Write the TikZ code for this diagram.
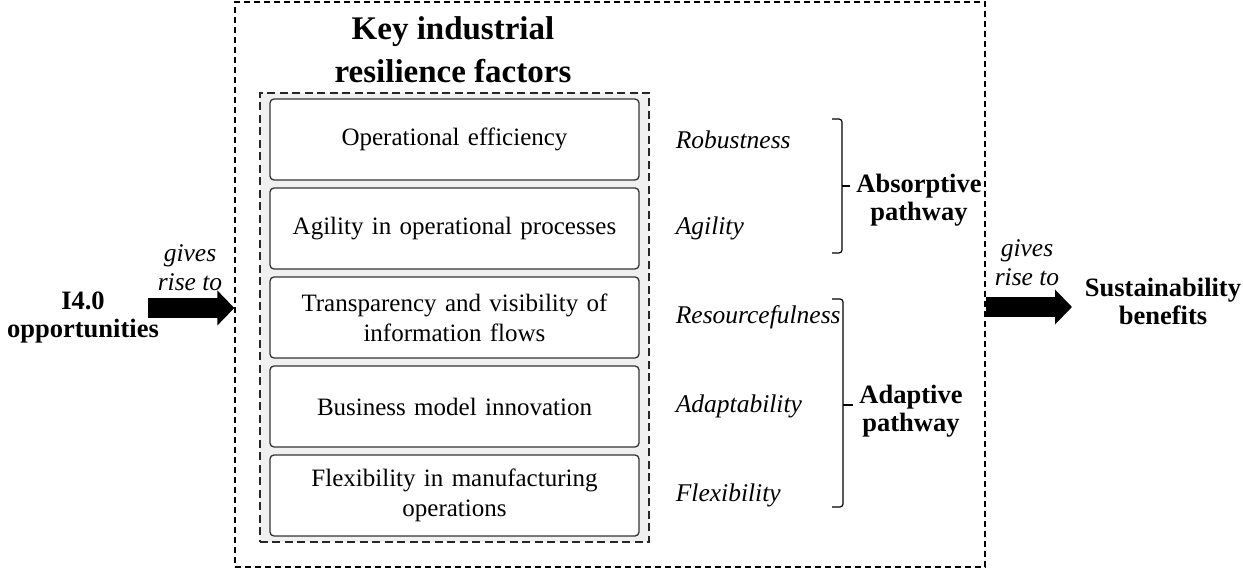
\documentclass[tikz,border=0pt]{standalone}
\usepackage{fontspec}
\setmainfont{Liberation Serif}
\usetikzlibrary{arrows.meta,positioning,fit,backgrounds}

\begin{document}
\begin{tikzpicture}[x=1pt,y=1pt]

\tikzstyle{factor} = [draw=black!80, line width=1.3pt, rounded corners=4pt, fill=white, minimum width=369pt, minimum height=81pt, text width=355pt, align=center, font=\fontsize{25}{30}\selectfont, node distance=89pt]
\tikzstyle{dim} = [font=\itshape\fontsize{25.5}{30}\selectfont, inner sep=0pt]
\tikzstyle{heading} = [font=\bfseries\fontsize{26.5}{28}\selectfont, align=center]
\tikzstyle{gives} = [font=\itshape\fontsize{25.5}{29}\selectfont, align=center]
\tikzstyle{fat} = [line width=20pt, -{Triangle[length=17pt,width=34pt]}]
\tikzstyle{brk} = [line width=1.2pt, rounded corners=3pt]

\useasboundingbox (0,0) rectangle (1243,-569);

\node [font=\bfseries\fontsize{33}{43}\selectfont, align=center] (title) at (453,-50) {Key industrial\\resilience factors};

%factors
\node [factor] (efficiency) at (454.5,-139.5) {Operational efficiency};
\node [factor, below of=efficiency] (agility) {Agility in operational processes};
\node [factor, below of=agility] (transparency) {Transparency and visibility of\\information flows};
\node [factor, below of=transparency] (business) {Business model innovation};
\node [factor, below of=business] (flexibility) {Flexibility in manufacturing\\operations};

\begin{scope}[on background layer]
\node [draw=black!85, dash pattern=on 8pt off 4.5pt, line width=1.5pt, fill=black!6, inner xsep=9.5pt, inner ysep=5.5pt, fit=(efficiency)(flexibility)] (factors) {};
\end{scope}

\node [draw, dash pattern=on 6pt off 4pt, line width=1.3pt, minimum width=750pt, minimum height=565pt] (frame) at (610,-284.5) {};

%capacities
\node [dim, right=36pt of efficiency] (robustness) {Robustness};
\node [dim, right=36pt of agility] (agile) {Agility};
\node [dim, right=36pt of transparency] (resourcefulness) {Resourcefulness};
\node [dim, right=36pt of business] (adaptability) {Adaptability};
\node [dim, right=36pt of flexibility] (flexible) {Flexibility};

%brackets
\draw [brk] (832,-119) -- (842,-119) -- (842,-253) -- (832,-253);
\draw [brk] (842,-186) -- (850,-186);
\draw [brk] (832,-299) -- (843,-299) -- (843,-507) -- (832,-507);
\draw [brk] (843,-405) -- (853,-405);

\node [heading] (absorptive) at (919,-200) {Absorptive\\pathway};
\node [heading] (adaptive) at (911,-411) {Adaptive\\pathway};

%arrows
\node [heading] (opportunities) at (83,-318) {I4.0\\opportunities};
\node [gives] (givesin) at (190,-268) {gives\\rise to};
\coordinate (startin) at (148,-308);
\draw [fat] (startin) -- (startin -| frame.west);

\node [heading] (benefits) at (1163,-301) {Sustainability\\benefits};
\node [gives] (givesout) at (1027,-263) {gives\\rise to};
\coordinate (endout) at (1072,-307);
\draw [fat] (endout -| frame.east) -- (endout);
\end{tikzpicture}
\end{document}
